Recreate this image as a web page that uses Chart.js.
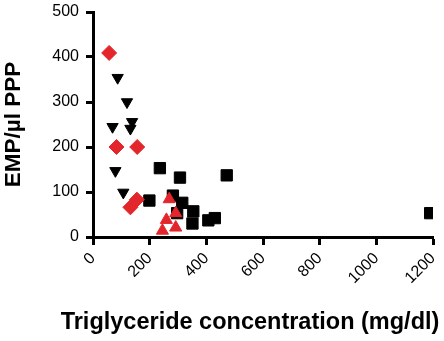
<!DOCTYPE html>
<html>
<head>
<meta charset="utf-8">
<script src="https://cdn.jsdelivr.net/npm/chart.js@4.4.1/dist/chart.umd.min.js"></script>
<style>
  html, body { margin: 0; padding: 0; background: #fff; }
  #wrap { width: 444px; height: 341px; }
</style>
</head>
<body>
<div id="wrap"><canvas id="chartTg" width="444" height="341"></canvas></div>
<script>
// values (triglyceride mg/dl vs EMP/ul PPP)
const redTriX = [269, 292, 259, 245, 292];
const redTriY = [84, 53, 38, 14, 21];
const diamondX = [57, 83, 156, 132, 155];
const diamondY = [409, 200, 200, 66, 83];
const downTriX = [87, 120, 138, 132, 69, 79, 107];
const downTriY = [354, 300, 256, 241, 245, 147, 99];
const squareX = [236, 307, 472, 199, 282, 315, 354, 351, 407, 430, 297, 1190];
const squareY = [153, 132, 137, 81, 92, 76, 57, 30, 37, 42, 53, 53];

const xTicks = [0, 200, 400, 600, 800, 1000, 1200];
const yTicks = [0, 100, 200, 300, 400, 500];
const xTitle = "Triglyceride concentration (mg/dl)";
const yTitle = "EMP/µl PPP";

const RED = "#e3262b";
const FONT = "'Liberation Sans', Arial, sans-serif";

const toPoints = (xs, ys) => xs.map((x, i) => ({ x: x, y: ys[i] }));

// x title sits a bit left of the axis centre in the original, so draw it by hand
const xTitlePlugin = {
  id: "xTitle",
  afterDraw: (chart) => {
    const ctx = chart.ctx;
    const area = chart.chartArea;
    ctx.save();
    ctx.font = "bold 23.5px " + FONT;
    ctx.fillStyle = "#000";
    ctx.textAlign = "center";
    ctx.textBaseline = "alphabetic";
    ctx.fillText(xTitle, area.left + (area.right - area.left) / 2 - 13, chart.height - 12);
    ctx.restore();
  },
};

const data = {
  datasets: [
    {
      label: "red up",
      data: toPoints(redTriX, redTriY),
      pointStyle: "triangle",
      pointRadius: 7,
      backgroundColor: RED,
      borderColor: RED,
      borderWidth: 1,
    },
    {
      label: "red diamond",
      data: toPoints(diamondX, diamondY),
      pointStyle: "rectRot",
      pointRadius: 7.5,
      backgroundColor: RED,
      borderColor: RED,
      borderWidth: 1,
    },
    {
      label: "black down",
      data: toPoints(downTriX, downTriY),
      pointStyle: "triangle",
      rotation: 180,
      pointRadius: 6.5,
      backgroundColor: "#000",
      borderColor: "#000",
      borderWidth: 1,
    },
    {
      label: "black square",
      data: toPoints(squareX, squareY),
      pointStyle: "rect",
      pointRadius: 8,
      backgroundColor: "#000",
      borderColor: "#000",
      borderWidth: 1,
    },
  ],
};

const config = {
  type: "scatter",
  data,
  plugins: [xTitlePlugin],
  options: {
    responsive: false,
    animation: false,
    events: [],
    layout: { padding: { top: 12, right: 11, left: 0, bottom: 0 } },
    plugins: { legend: { display: false }, tooltip: { enabled: false } },
    scales: {
      x: {
        type: "linear",
        min: 0,
        max: 1200,
        afterBuildTicks: (s) => { s.ticks = xTicks.map((v) => ({ value: v })); },
        afterFit: (s) => {
          s.height = 104;
          s.paddingLeft = 0;
          s.paddingRight = 0;
        },
        border: { display: true, color: "#000", width: 3 },
        grid: { drawOnChartArea: false, drawTicks: true, tickLength: 8, tickWidth: 3, tickColor: "#000" },
        ticks: {
          color: "#000",
          font: { family: FONT, size: 16 },
          minRotation: 45,
          maxRotation: 45,
          padding: 4,
          callback: (v) => String(v),
        },
      },
      y: {
        type: "linear",
        min: 0,
        max: 500,
        afterBuildTicks: (s) => { s.ticks = yTicks.map((v) => ({ value: v })); },
        afterFit: (s) => {
          s.width = 93;
          s.paddingTop = 0;
          s.paddingBottom = 0;
        },
        border: { display: true, color: "#000", width: 3 },
        grid: { drawOnChartArea: false, drawTicks: true, tickLength: 7, tickWidth: 3, tickColor: "#000" },
        ticks: {
          color: "#000",
          font: { family: FONT, size: 16 },
          padding: 7,
          callback: (v) => String(v),
        },
        title: {
          display: true,
          text: yTitle,
          color: "#000",
          font: { family: FONT, size: 22.5, weight: "bold" },
          padding: { top: 0, bottom: 0 },
        },
      },
    },
  },
};

const chartTg = new Chart(document.getElementById("chartTg"), config);
</script>
</body>
</html>
